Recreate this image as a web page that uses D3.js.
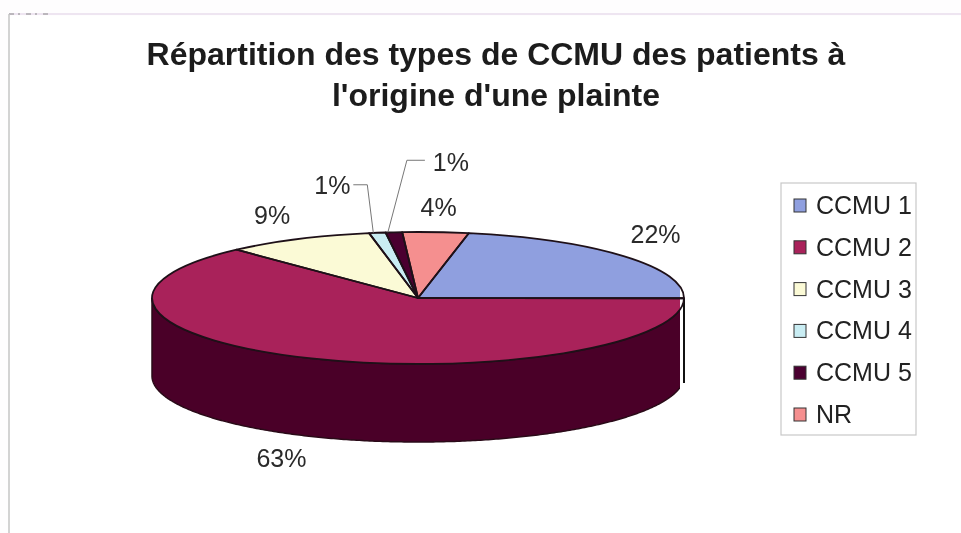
<!DOCTYPE html>
<html>
<head>
<meta charset="utf-8">
<script src="https://cdn.jsdelivr.net/npm/d3@7"></script>
<style>
  html, body { margin: 0; padding: 0; background: #fefdfe; }
  svg { display: block; font-family: "Liberation Sans", Arial, sans-serif; filter: blur(0.4px); }
  .slice-stroke { vector-effect: non-scaling-stroke; }
</style>
</head>
<body>
<div id="container"></div>
<script>
/* DATA */
const categories = ["CCMU 1", "CCMU 2", "CCMU 3", "CCMU 4", "CCMU 5", "NR"];
const values = [22, 63, 9, 1, 1, 4];
const titleLines = ["Répartition des types de CCMU des patients à", "l'origine d'une plainte"];
const colors = ["#8f9fdf", "#a9225a", "#fbfad6", "#c9edf3", "#4a0030", "#f58f8f"];
const sideColors = ["#474f70", "#4a0028", "#7d7d6b", "#647679", "#250018", "#7a4747"];

/* CONSTANTS AND GLOBALS */
const width = 961,
  height = 533,
  cx = 418, cy = 298,
  rx = 266, ry = 66,
  depth = 78,
  clipRight = 680;

const svg = d3.select("#container")
  .append("svg")
  .attr("width", width)
  .attr("height", height);

// PAGE EDGES (scan of a document)
svg.append("rect")
  .attr("x", 10).attr("y", 16).attr("width", width - 10).attr("height", height - 16)
  .attr("fill", "#fff");
svg.append("line")
  .attr("x1", 9).attr("x2", width).attr("y1", 14).attr("y2", 14)
  .attr("stroke", "#e9dcec").attr("stroke-width", 1.5);
svg.append("line")
  .attr("x1", 9).attr("x2", 50).attr("y1", 14).attr("y2", 14)
  .attr("stroke", "#888").attr("stroke-width", 1).attr("stroke-dasharray", "5 4 2 6");
svg.append("line")
  .attr("x1", 9).attr("x2", 9).attr("y1", 14).attr("y2", height)
  .attr("stroke", "#c4c4c4").attr("stroke-width", 1.5);

// TITLE
svg.selectAll(".title")
  .data(titleLines)
  .join("text")
  .attr("class", "title")
  .attr("x", 496)
  .attr("y", (d, i) => 65 + i * 41)
  .attr("text-anchor", "middle")
  .attr("font-size", 32)
  .attr("font-weight", "bold")
  .attr("fill", "#1c1c1c")
  .text(d => d);

// PIE LAYOUT, first slice starts a little past 12 o'clock
const startAngle = 11 * Math.PI / 180;
const pie = d3.pie()
  .sort(null)
  .startAngle(startAngle)
  .endAngle(startAngle + 2 * Math.PI);
const arcs = pie(values);

const arcGen = d3.arc().innerRadius(0).outerRadius(rx);

// point on the top ellipse for a pie angle
const rim = a => [cx + rx * Math.sin(a), cy - ry * Math.cos(a)];

svg.append("clipPath")
  .attr("id", "pie-clip")
  .append("rect")
  .attr("x", 0).attr("y", 0).attr("width", clipRight).attr("height", height);

// SIDE WALL, only the front half of the pie shows
const sideArea = d3.area()
  .x(a => rim(a)[0])
  .y0(a => rim(a)[1])
  .y1(a => rim(a)[1] + depth);

const sideData = arcs.map((d, i) => {
  const lo = Math.max(d.startAngle, Math.PI / 2);
  const hi = Math.min(d.endAngle, 3 * Math.PI / 2);
  return { i, angles: hi > lo ? d3.range(lo, hi, 0.01).concat(hi) : [] };
}).filter(d => d.angles.length);

svg.append("g")
  .attr("clip-path", "url(#pie-clip)")
  .selectAll(".side")
  .data(sideData)
  .join("path")
  .attr("class", "side")
  .attr("fill", d => sideColors[d.i])
  .attr("stroke", "#2a0a18")
  .attr("stroke-width", 1.5)
  .attr("d", d => sideArea(d.angles));

// right hand black edge, sticks out past the clipped picture
svg.append("line")
  .attr("x1", cx + rx).attr("x2", cx + rx)
  .attr("y1", cy).attr("y2", cy + depth + 7)
  .attr("stroke", "#111").attr("stroke-width", 2);

// TOP FACE
const pieTransform = `translate(${cx},${cy}) scale(1,${ry / rx})`;

svg.append("g")
  .attr("clip-path", "url(#pie-clip)")
  .append("g")
  .attr("transform", pieTransform)
  .selectAll(".slice")
  .data(arcs)
  .join("path")
  .attr("class", "slice")
  .attr("fill", (d, i) => colors[i])
  .attr("d", arcGen);

svg.append("g")
  .attr("transform", pieTransform)
  .selectAll(".slice-stroke")
  .data(arcs)
  .join("path")
  .attr("class", "slice-stroke")
  .attr("fill", "none")
  .attr("stroke", "#1e1018")
  .attr("stroke-width", 1.8)
  .attr("stroke-linejoin", "round")
  .attr("d", arcGen);

// DATA LABELS, offset from the rim point of each slice's middle angle
const labelOffset = [
  [32, -22], [-30, 100], [-26, -24], [-45, -48], [57, -70], [3, -25]
];
const midRim = arcs.map(d => rim((d.startAngle + d.endAngle) / 2));

svg.selectAll(".pct")
  .data(arcs)
  .join("text")
  .attr("class", "pct")
  .attr("x", (d, i) => midRim[i][0] + labelOffset[i][0])
  .attr("y", (d, i) => midRim[i][1] + labelOffset[i][1] + 9)
  .attr("text-anchor", "middle")
  .attr("font-size", 25)
  .attr("fill", "#2a2a2a")
  .text(d => d.data + "%");

// LEADER LINES for the two 1% slices
const leader = d3.line();
[[3, -24, -48, -10, -48, -4], [4, 31, -72, 13, -72, -6]].forEach(([i, x0, y0, x1, y1, x2]) => {
  const [mx, my] = midRim[i];
  svg.append("path")
    .attr("fill", "none")
    .attr("stroke", "#777")
    .attr("stroke-width", 1)
    .attr("d", leader([[mx + x0, my + y0], [mx + x1, my + y1], [mx + x2, my]]));
});

// LEGEND
const legendX = 781, legendY = 183, legendW = 135, legendH = 252;
const legendScale = d3.scalePoint()
  .domain(categories)
  .range([legendY + 22, legendY + 231]);

svg.append("rect")
  .attr("x", legendX).attr("y", legendY)
  .attr("width", legendW).attr("height", legendH)
  .attr("fill", "#fff")
  .attr("stroke", "#c8c8c8")
  .attr("stroke-width", 1.2);

const legendItems = svg.selectAll(".legend-item")
  .data(categories)
  .join("g")
  .attr("class", "legend-item")
  .attr("transform", d => `translate(${legendX + 13},${legendScale(d)})`);

legendItems.append("rect")
  .attr("x", 0).attr("y", -6)
  .attr("width", 12).attr("height", 13)
  .attr("fill", (d, i) => colors[i])
  .attr("stroke", "#333")
  .attr("stroke-width", 1);

legendItems.append("text")
  .attr("x", 22)
  .attr("y", 9)
  .attr("font-size", 25)
  .attr("fill", "#222")
  .text(d => d);
</script>
</body>
</html>
